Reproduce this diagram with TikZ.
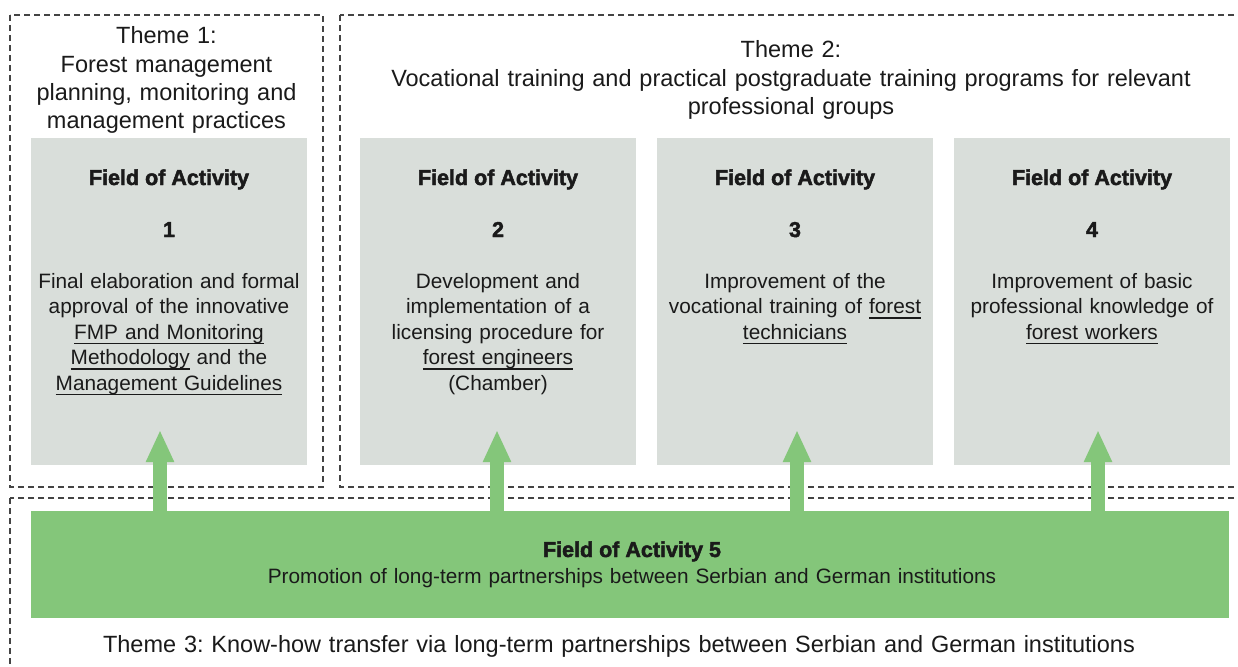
\documentclass[tikz,border=0pt]{standalone}
\usepackage{fontspec}
\setmainfont{Liberation Sans}[BoldFeatures={FakeBold=2.2}]
\usetikzlibrary{arrows.meta}
\frenchspacing

\definecolor{fagray}{HTML}{D9DEDA}
\definecolor{fagreen}{HTML}{84C67A}
\definecolor{framegray}{HTML}{444444}
\definecolor{ink}{HTML}{1A1A1A}
\newcommand{\ulk}[1]{\leavevmode\setbox0\hbox{#1}\rlap{\rule[-5pt]{\wd0}{1.1pt}}\box0\relax}

\tikzset{
  themeframe/.style={draw=framegray, line width=1.2pt, dash pattern=on 6pt off 4pt},
  themetext/.style={font=\fontsize{23.5}{28.3}\selectfont, text=ink, align=center, text width=900pt, anchor=base, inner sep=0pt},
  fabox/.style={fill=fagray, minimum width=276pt, minimum height=327pt, inner sep=0pt},
  fahead/.style={font=\bfseries\fontsize{21.5}{25}\selectfont, text=ink, anchor=base, inner sep=0pt},
  fatext/.style={font=\fontsize{20.8}{25.5}\selectfont, text=ink, align=center, text width=276pt, anchor=base, inner sep=0pt},
  upar/.style={draw=fagreen, line width=14pt, -{Triangle[width=26pt,length=32pt]}}
}

\begin{document}
\begin{tikzpicture}[x=1pt,y=-1pt]
  \useasboundingbox (0,0) rectangle (1238,666);
  \clip (0,0) rectangle (1238,666);

  \draw[themeframe] (10,15) rectangle (323,487);
  \draw[themeframe] (340,15) rectangle (1260,487);
  \draw[themeframe] (10,498) rectangle (1260,700);

  \node[themetext] (th1) at (166.5,44) {Theme 1:\\Forest management\\planning, monitoring and\\management practices};
  \node[themetext] (th2) at (791,58) {Theme 2:\\Vocational training and practical postgraduate training programs for relevant\\professional groups};

  \node[fabox] (fa1) at (169,301.5) {};
  \node[fabox] (fa2) at (498,301.5) {};
  \node[fabox] (fa3) at (795,301.5) {};
  \node[fabox] (fa4) at (1092,301.5) {};

  \node[fahead] (h1) at (169,185) {Field of Activity};
  \node[fahead] (h2) at (498,185) {Field of Activity};
  \node[fahead] (h3) at (795,185) {Field of Activity};
  \node[fahead] (h4) at (1092,185) {Field of Activity};
  \node[fahead] (n1) at (169,237) {1};
  \node[fahead] (n2) at (498,237) {2};
  \node[fahead] (n3) at (795,237) {3};
  \node[fahead] (n4) at (1092,237) {4};

  \node[fatext] (d1) at (169,288) {Final elaboration and formal\\approval of the innovative\\\ulk{FMP and Monitoring}\\\ulk{Methodology} and the\\\ulk{Management Guidelines}};
  \node[fatext] (d2) at (498,288) {Development and\\implementation of a\\licensing procedure for\\\ulk{forest engineers}\\(Chamber)};
  \node[fatext] (d3) at (795,288) {Improvement of the\\vocational training of \ulk{forest}\\\ulk{technicians}};
  \node[fatext] (d4) at (1092,288) {Improvement of basic\\professional knowledge of\\\ulk{forest workers}};

  \node[fill=fagreen, minimum width=1198pt, minimum height=107pt, inner sep=0pt] (fa5) at (630,564.5) {};
  \node[fahead] (h5) at (632,557) {Field of Activity 5};
  \node[fatext, text width=1100pt] (d5) at (632,583) {Promotion of long-term partnerships between Serbian and German institutions};

  \node[themetext, text width=1200pt] (th3) at (619,652) {Theme 3: Know-how transfer via long-term partnerships between Serbian and German institutions};

  \coordinate (t1) at (160,430);
  \coordinate (t2) at (497,430);
  \coordinate (t3) at (797,430);
  \coordinate (t4) at (1098,430);
  \draw[upar] (fa5.north -| t1) -- (t1);
  \draw[upar] (fa5.north -| t2) -- (t2);
  \draw[upar] (fa5.north -| t3) -- (t3);
  \draw[upar] (fa5.north -| t4) -- (t4);
\end{tikzpicture}
\end{document}
